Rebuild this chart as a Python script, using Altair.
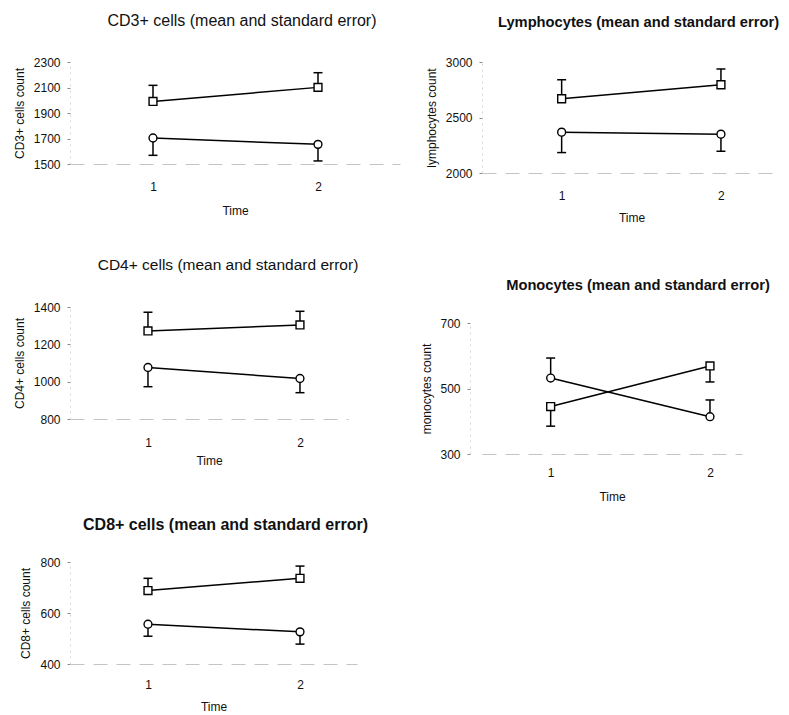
import altair as alt
import pandas as pd

times = [1, 2]
groups = ["square", "circle"]

# CD3+ cells
cd3_sq = [1991, 2101]
cd3_sq_se = [2117, 2216]
cd3_ci = [1704, 1654]
cd3_ci_se = [1568, 1524]

# Lymphocytes
lym_sq = [2669, 2795]
lym_sq_se = [2840, 2937]
lym_ci = [2368, 2350]
lym_ci_se = [2184, 2196]

# CD4+ cells
cd4_sq = [1272, 1304]
cd4_sq_se = [1372, 1377]
cd4_ci = [1076, 1017]
cd4_ci_se = [973, 941]

# Monocytes
mon_sq = [445, 569]
mon_sq_se = [385, 520]
mon_ci = [532, 414]
mon_ci_se = [593, 465]

# CD8+ cells
cd8_sq = [688, 736]
cd8_sq_se = [736, 784]
cd8_ci = [556, 526]
cd8_ci_se = [509, 478]

FONT = "Liberation Sans"


def make_panel(title, bold, tsize, tdx, toff, ytitle, ydom, yticks, xdom, w, h,
               sq, sq_se, ci, ci_se, yoffset=0, ytp=7, xlp=16, xtp=11):
    df = pd.DataFrame({
        "time": times * 2,
        "group": [groups[0]] * 2 + [groups[1]] * 2,
        "mean": sq + ci,
        "bar": sq_se + ci_se,
    })
    xs = alt.Scale(domain=xdom, nice=False, zero=False)
    ys = alt.Scale(domain=ydom, nice=False, zero=False)
    xax = alt.Axis(values=times, format="d", title="Time", ticks=False,
                   labelFontSize=12, labelPadding=xlp, labelColor="#111",
                   titleFontSize=12, titleFontWeight="normal", titleColor="#111",
                   titlePadding=xtp, grid=False, domainColor="#c4c4c4",
                   domainDash=[14, 9], domainWidth=1)
    yax = alt.Axis(values=yticks, format="d", title=ytitle, offset=yoffset,
                   grid=False, labelFontSize=12, labelPadding=7,
                   labelColor="#111", tickSize=3, tickColor="#888888",
                   tickWidth=1, domainColor="#d6d6d6", domainDash=[2, 4],
                   titleFontSize=12, titleFontWeight="normal", titleColor="#111",
                   titlePadding=ytp)
    x = alt.X("time:Q", scale=xs, axis=xax)

    def y(f):
        return alt.Y(f"{f}:Q", scale=ys, axis=yax)

    base = alt.Chart(df)
    line = base.mark_line(color="black", strokeWidth=1.5).encode(
        x=x, y=y("mean"), detail="group:N")
    rule = base.mark_rule(color="black", strokeWidth=1.5).encode(
        x=x, y=y("mean"), y2="bar:Q")
    cap = base.mark_tick(orient="horizontal", size=9, thickness=1.5,
                         color="black", opacity=1).encode(x=x, y=y("bar"))
    pts = base.mark_point(filled=True, fill="white", stroke="black",
                          strokeWidth=1.4, size=62, opacity=1).encode(
        x=x, y=y("mean"),
        shape=alt.Shape("group:N",
                        scale=alt.Scale(domain=groups, range=["square", "circle"]),
                        legend=None))
    return alt.layer(line, rule, cap, pts).properties(
        width=w, height=h,
        title=alt.TitleParams(text=title, fontSize=tsize,
                              fontWeight="bold" if bold else "normal",
                              anchor="middle", dx=tdx, offset=toff,
                              frame="group", baseline="bottom", color="#111",
                              font=FONT))


p1 = make_panel("CD3+ cells (mean and standard error)", False, 16, 7, 11,
                "CD3+ cells count", [1500, 2300], [1500, 1700, 1900, 2100, 2300],
                [0.497, 2.497], 330, 102, cd3_sq, cd3_sq_se, cd3_ci, cd3_ci_se,
                xlp=17, xtp=13)
p3 = make_panel("CD4+ cells (mean and standard error)", False, 15.5, 19, 13,
                "CD4+ cells count", [800, 1400], [800, 1000, 1200, 1400],
                [0.487, 2.316], 278, 112, cd4_sq, cd4_sq_se, cd4_ci, cd4_ci_se,
                xlp=18, xtp=7)
p5 = make_panel("CD8+ cells (mean and standard error)", True, 16, 12, 7,
                "CD8+ cells count", [400, 800], [400, 600, 800],
                [0.487, 2.375], 287, 102, cd8_sq, cd8_sq_se, cd8_ci, cd8_ci_se,
                xlp=15, xtp=11)
p2 = make_panel("Lymphocytes (mean and standard error)", True, 14.7, 7, 11.5,
                "lymphocytes count", [2000, 3000], [2000, 2500, 3000],
                [0.5, 2.377], 299, 111, lym_sq, lym_sq_se, lym_ci, lym_ci_se,
                ytp=7, xlp=17, xtp=11)
p4 = make_panel("Monocytes (mean and standard error)", True, 14.7, 26, 9,
                "monocytes count", [300, 700], [300, 500, 700],
                [0.569, 2.201], 260, 131, mon_sq, mon_sq_se, mon_ci, mon_ci_se,
                yoffset=12, ytp=6, xlp=13, xtp=13)

left = alt.vconcat(p1, p3, p5, spacing=143, bounds="flush")
right = alt.vconcat(p2, p4, spacing=150, bounds="flush")

chart = alt.hconcat(left, right, spacing=412, bounds="flush").properties(
    padding={"left": 5, "top": 5, "right": 0, "bottom": 0}
).configure(font=FONT).configure_view(stroke=None, strokeWidth=0)

chart.save("out.html", embed_options={"renderer": "svg", "actions": False})
